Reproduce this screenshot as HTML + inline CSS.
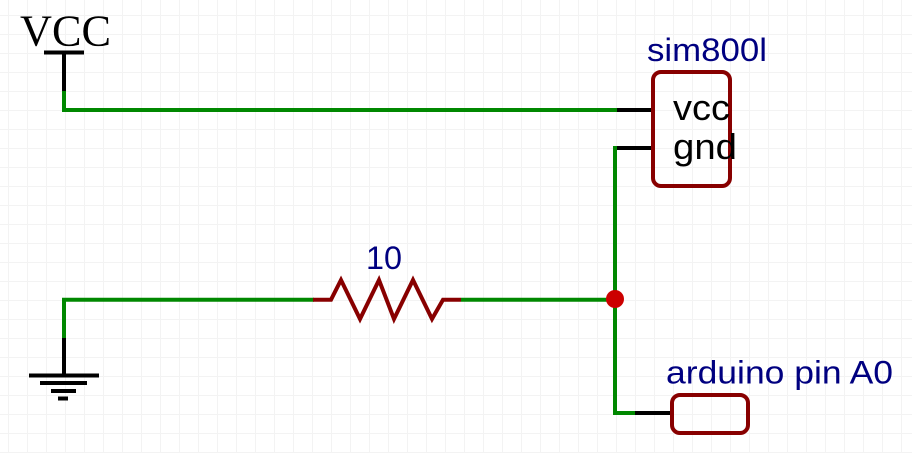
<!DOCTYPE html>
<html><head><meta charset="utf-8"><style>
html,body{margin:0;padding:0;background:#fff;width:912px;height:453px;overflow:hidden}
svg{display:block}
text{font-family:"Liberation Sans",sans-serif}
</style></head><body>
<svg width="912" height="453" viewBox="0 0 912 453" xmlns="http://www.w3.org/2000/svg">
<defs>
<pattern id="g" x="8" y="15" width="19" height="19" patternUnits="userSpaceOnUse">
<path d="M0.5 0V19M0 0.5H19" stroke="#f3f3f3" stroke-width="1" fill="none"/>
</pattern>
</defs>
<rect width="912" height="453" fill="#fff"/>
<rect width="912" height="453" fill="url(#g)"/>
<g fill="none" stroke-width="4">
<path d="M64 90V110H617" stroke="#008800" stroke-linejoin="miter"/>
<path d="M654 148H615V413H636" stroke="#008800"/>
<path d="M64 338V299.700H314" stroke="#008800"/>
<path d="M461 299.700H615" stroke="#008800"/>
<path d="M64 52V91M617 110H653M617 148H653M64 338V375M635 413H672" stroke="#000"/>
<path d="M44 52.500H84M29 375.500H99M40 383H87M51 391H76M58 398.500H68" stroke="#000"/>
<path d="M313 299.700H331L341 280L360 319L379 280L394 319L413 280L432 319L443 299.700H461" stroke="#880000" stroke-linejoin="miter"/>
<rect x="653" y="72" width="77" height="114" rx="8" ry="8" stroke="#880000"/>
<rect x="672" y="395" width="76" height="38" rx="8" ry="8" stroke="#880000"/>
</g>
<circle cx="615" cy="299" r="9" fill="#cc0000"/>
<text x="20" y="45.500" font-size="44" fill="#000" textLength="91" lengthAdjust="spacingAndGlyphs" style="font-family:'Liberation Serif',serif">VCC</text>
<text x="647" y="61" font-size="32.500" fill="#000080" textLength="120" lengthAdjust="spacingAndGlyphs">sim800l</text>
<text x="673" y="120" font-size="36.500" fill="#000" textLength="57" lengthAdjust="spacingAndGlyphs">vcc</text>
<text x="673" y="159" font-size="36.500" fill="#000" textLength="64" lengthAdjust="spacingAndGlyphs">gnd</text>
<text x="366" y="269" font-size="32.500" fill="#000080" textLength="36" lengthAdjust="spacingAndGlyphs">10</text>
<text x="666" y="383.500" font-size="32.500" fill="#000080" textLength="227" lengthAdjust="spacingAndGlyphs">arduino pin A0</text>
</svg>
</body></html>
